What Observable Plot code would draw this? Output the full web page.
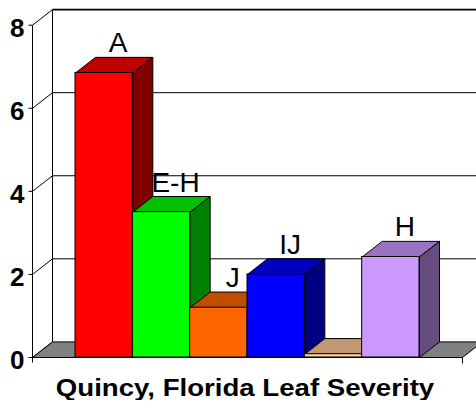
<!DOCTYPE html>
<html><head><meta charset="utf-8">
<script src="https://cdn.jsdelivr.net/npm/d3@7"></script>
<script src="https://cdn.jsdelivr.net/npm/@observablehq/plot@0.6"></script>
<style>
html,body{margin:0;padding:0;background:#fff;overflow:hidden;}
#title{font-family:"Liberation Sans",Arial,sans-serif;font-weight:bold;font-size:24px;line-height:24px;text-align:center;width:476px;margin-top:-2px;transform:translateX(7px) scaleX(1.15);white-space:nowrap;}
</style></head><body>
<div id="chart"></div>
<div id="title">Quincy, Florida Leaf Severity</div>
<script>
// ---- data ----
const categories = ["1","2","3","4","5","6"];
const values = [6.85, 3.5, 1.2, 2.0, 0.08, 2.42];
const labels = ["A","E-H","J","IJ","","H"];
const frontColors = ["#FF0000","#00FF00","#FF6600","#0000FF","#FFCC99","#CC99FF"];
const topColors   = ["#C00000","#00C000","#C04D00","#0000C0","#C09973","#9973C0"];
const sideColors  = ["#800000","#008000","#803300","#000080","#80664D","#664D80"];
const yTicks = [0, 2, 4, 6, 8];

// ---- layout ----
const W = 476, H = 378, mL = 32, mR = 14, mT = 24.7, mB = 21;
const nSlots = categories.length + 1.5, pad = 0.75;
const PX = (W - mL - mR) / nSlots, PY = (H - mB - mT) / 8;
const kx = 20 / PX, ky = 15.6 / PY;   // depth offset in data units

function poly(pts, fill) {
  const closed = pts.concat([pts[0]]);
  return Plot.line(closed, {x: d => d[0], y: d => d[1], fill, stroke: "black", strokeWidth: 1, strokeLinejoin: "miter"});
}

const marks = [];
// left wall diagonals
marks.push(Plot.link(yTicks, {x1: 0, y1: d => d, x2: kx, y2: d => d + ky, stroke: "black", strokeWidth: 1}));
// back wall left edge
marks.push(Plot.link([0], {x1: kx, y1: ky, x2: kx, y2: 8 + ky, stroke: "black", strokeWidth: 1}));
// back wall gridlines
marks.push(Plot.link(yTicks.filter(d => d > 0), {x1: kx, y1: d => d + ky, x2: nSlots + kx, y2: d => d + ky, stroke: "black", strokeWidth: d => d === 8 ? 1.6 : 1}));
// floor
marks.push(poly([[0, 0], [nSlots, 0], [nSlots + kx, ky], [kx, ky]], "#808080"));
// front value axis
marks.push(Plot.link([0], {x1: 0, y1: -5 / PY, x2: 0, y2: 8, stroke: "black", strokeWidth: 1}));
marks.push(Plot.link(yTicks, {x1: -4 / PX, y1: d => d, x2: 0, y2: d => d, stroke: "black", strokeWidth: 1}));
// category axis end tick
marks.push(Plot.link([nSlots], {x1: d => d, y1: -6 / PY, x2: d => d, y2: 0, stroke: "black", strokeWidth: 1}));

// bars
values.forEach((v, i) => {
  const x0 = pad + i, x1 = pad + i + 1;
  marks.push(poly([[x0, v], [x1, v], [x1 + kx, v + ky], [x0 + kx, v + ky]], topColors[i]));
  marks.push(poly([[x1, 0], [x1 + kx, ky], [x1 + kx, v + ky], [x1, v]], sideColors[i]));
  marks.push(Plot.rect([v], {x1: x0, x2: x1, y1: 0, y2: d => d, fill: frontColors[i], stroke: "black", strokeWidth: 1}));
});

// bar letters
marks.push(Plot.text(labels, {
  x: (d, i) => pad + i + 0.5, y: (d, i) => values[i] + ky, text: d => d,
  dx: 14, dy: -5, lineAnchor: "bottom", textAnchor: "middle",
  fontSize: 28, fontFamily: "Liberation Sans, Arial, sans-serif", fill: "black"
}));
// y tick labels
marks.push(Plot.text(yTicks, {
  y: d => d, text: d => String(d), frameAnchor: "left", dx: -8, dy: 3,
  textAnchor: "end", lineAnchor: "middle", fontSize: 26, fontWeight: "bold",
  fontFamily: "Liberation Sans, Arial, sans-serif", fill: "black", ariaLabel: "ytick-labels"
}));

const chart = Plot.plot({
  width: W, height: H,
  marginLeft: mL, marginRight: mR, marginTop: mT, marginBottom: mB,
  x: {domain: [0, nSlots], axis: null},
  y: {domain: [0, 8], axis: null},
  style: {background: "white", fontFamily: "Liberation Sans, Arial, sans-serif"},
  marks
});
chart.querySelectorAll('g[aria-label="ytick-labels"] text').forEach(t => {
  t.setAttribute("transform", (t.getAttribute("transform") || "") + " scale(1.2,1)");
});
document.getElementById("chart").appendChild(chart);
</script>
</body></html>
